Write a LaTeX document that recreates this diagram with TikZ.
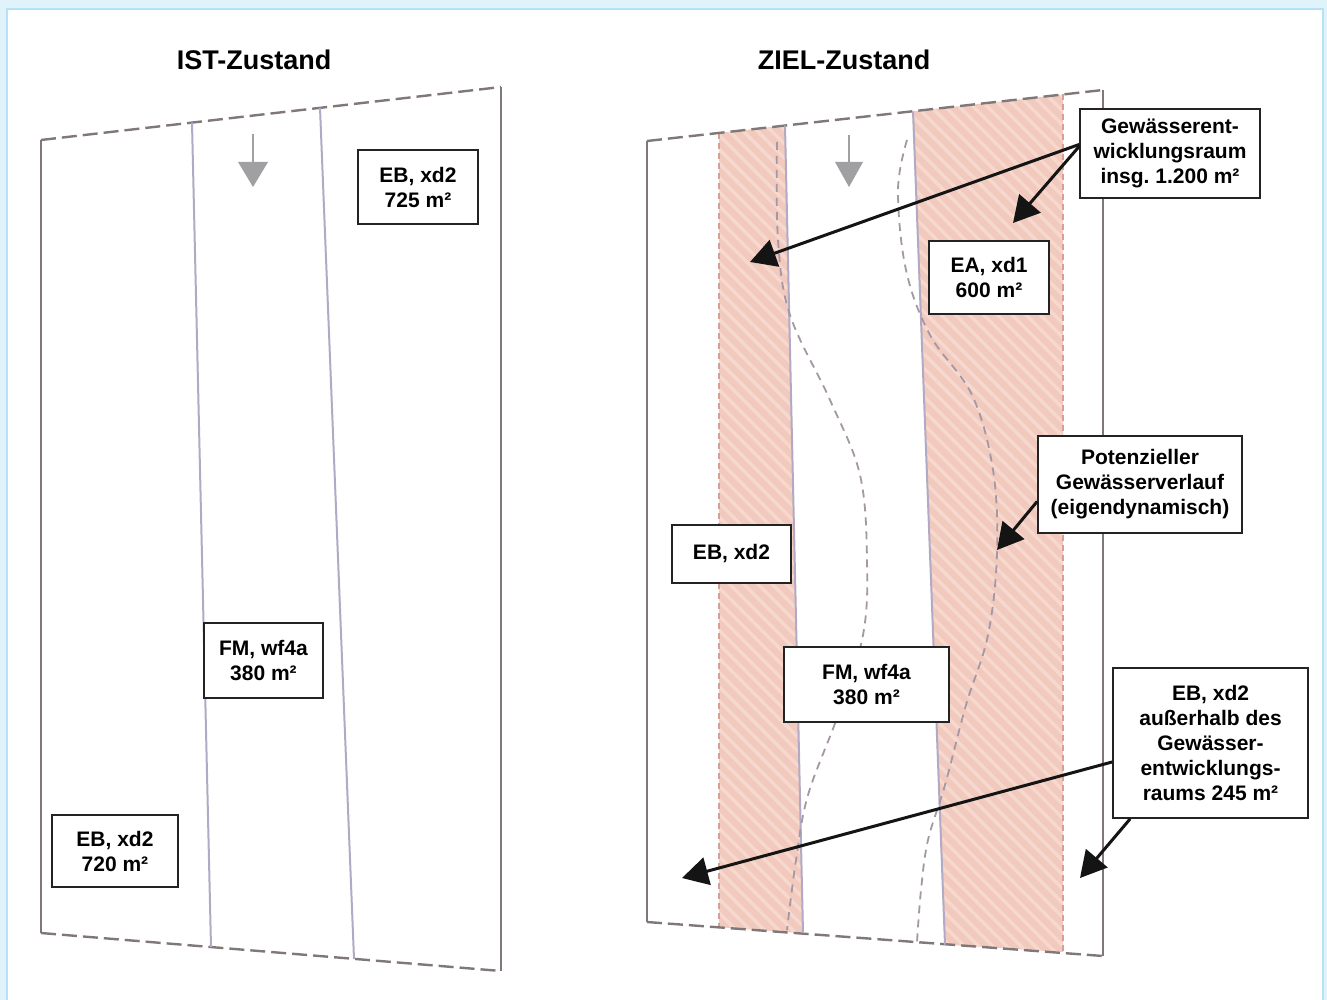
\documentclass[tikz,border=0pt]{standalone}
\usepackage{fontspec}
\setmainfont{Liberation Sans}
\usetikzlibrary{arrows.meta,patterns.meta,calc}
\definecolor{bgblue}{RGB}{224,243,251}
\definecolor{frameblue}{RGB}{180,226,246}
\definecolor{outline}{RGB}{128,120,120}
\definecolor{innerline}{RGB}{178,170,196}
\definecolor{bandpink}{RGB}{241,201,189}
\definecolor{bandlight}{RGB}{246,216,207}
\definecolor{bandedge}{RGB}{214,160,150}
\definecolor{meandercol}{RGB}{165,152,165}
\definecolor{flowgray}{RGB}{160,160,162}
\definecolor{boxline}{RGB}{35,35,35}
\begin{document}
\frenchspacing
\begin{tikzpicture}[x=1pt,y=-1pt,
  outerline/.style={draw=outline, line width=2.4pt},
  outerdash/.style={draw=outline, line width=2.4pt, dash pattern=on 15pt off 6pt},
  innerv/.style={draw=innerline, line width=2pt},
  bandfill/.style={fill=bandpink},
  bandhatch/.style={pattern={Lines[angle=-45,distance=10pt,line width=3.5pt]}, pattern color=bandlight},
  bandborder/.style={draw=bandedge, line width=1.6pt, dash pattern=on 6pt off 4pt},
  meander/.style={draw=meandercol, line width=1.8pt, dash pattern=on 8pt off 6pt},
  flow/.style={fill=flowgray},
  lbl/.style={draw=boxline, line width=1.8pt, fill=white, align=center, inner sep=0pt,
    font=\fontsize{21}{25}\selectfont\bfseries},
  ttl/.style={font=\fontsize{27}{30}\selectfont\bfseries, anchor=base, inner sep=0pt},
  pointer/.style={-{Triangle[length=26pt,width=28pt]}, line width=3pt, black!92}
]
\useasboundingbox (0,0) rectangle (1327,1000);
% background and frame
\fill[bgblue] (0,0) rectangle (1327,1000);
\filldraw[fill=white, draw=frameblue, line width=2.5pt] (7,9) rectangle (1323,1012);

% titles
\node[ttl] (t1) at (254,70) {IST-Zustand};
\node[ttl] (t2) at (844,70) {ZIEL-Zustand};

% ===== left panel (IST) =====
\draw[outerdash] (41,140) -- (501,87);
\draw[outerdash] (41,933) -- (501,971);
\draw[outerline] (41,140) -- (41,933);
\draw[outerline] (501,87) -- (501,971);
\draw[innerv] (192,122.6) -- (211,947);
\draw[innerv] (320,107.8) -- (354,958.8);
% flow arrow
\draw[flowgray, line width=2.5pt] (253,134) -- (253,165);
\fill[flow] (238,162) -- (268,162) -- (253,187) -- cycle;

% ===== right panel (ZIEL) =====
% bands
\fill[bandfill] (719,133) -- (785,125.6) -- (803,933.2) -- (719,927.2) -- cycle;
\fill[bandhatch] (719,133) -- (785,125.6) -- (803,933.2) -- (719,927.2) -- cycle;
\fill[bandfill] (913,111.3) -- (1063,94.5) -- (1063,952) -- (945,944.6) -- cycle;
\fill[bandhatch] (913,111.3) -- (1063,94.5) -- (1063,952) -- (945,944.6) -- cycle;
\draw[bandborder] (719,133) -- (719,927.2);
\draw[bandborder] (1063,94.5) -- (1063,952);
% outline
\draw[outerdash] (647,141) -- (1103,90);
\draw[outerdash] (647,922) -- (1103,956);
\draw[outerline] (647,141) -- (647,922);
\draw[outerline] (1103,90) -- (1103,956);
\draw[innerv] (785,125.6) -- (803,933.2);
\draw[innerv] (913,111.3) -- (945,944.6);
% potential channel (dashed banks)
\draw[meander] plot[smooth, tension=0.6] coordinates {(777,142) (778,240) (790,315) (830,400) (860,475) (867,560) (863,635) (838,715) (808,795) (796,860) (787,930)};
\draw[meander] plot[smooth, tension=0.6] coordinates {(907,140) (898,190) (906,270) (930,335) (972,395) (993,470) (997,553) (988,635) (966,705) (945,785) (928,840) (921,890) (917,942)};
% flow arrow
\draw[flowgray, line width=2.5pt] (849,135) -- (849,165);
\fill[flow] (835,162) -- (863,162) -- (849,187) -- cycle;

% ===== labels =====
\node[lbl, minimum width=120pt, minimum height=74pt] (ist725) at (418,187) {EB, xd2\\725 m²};
\node[lbl, minimum width=119pt, minimum height=75pt] (ist380) at (263.5,660.5) {FM, wf4a\\380 m²};
\node[lbl, minimum width=126pt, minimum height=72pt] (ist720) at (115,851) {EB, xd2\\720 m²};

\node[lbl, minimum width=180pt, minimum height=89pt] (ger) at (1170,153.5) {Gewässerent-\\wicklungsraum\\insg. 1.200 m²};
\node[lbl, minimum width=120pt, minimum height=73pt] (ea) at (989,277.5) {EA, xd1\\600 m²};
\node[lbl, minimum width=204pt, minimum height=97pt] (pot) at (1140,484.5) {Potenzieller\\Gewässerverlauf\\(eigendynamisch)};
\node[lbl, minimum width=119pt, minimum height=58pt] (eb2) at (731.5,554) {EB, xd2};
\node[lbl, minimum width=165pt, minimum height=75pt] (fm2) at (866.5,684.5) {FM, wf4a\\380 m²};
\node[lbl, minimum width=195pt, minimum height=150pt] (eba) at (1210.5,743) {EB, xd2\\außerhalb des\\Gewässer-\\entwicklungs-\\raums 245 m²};

% ===== pointers =====
\coordinate (tipA) at (750,262);
\coordinate (tipB) at (1013,223);
\coordinate (tipC) at (997,550);
\coordinate (tipD) at (682,878);
\coordinate (tipE) at (1080,878);
\draw[pointer] ($(ger.west)+(0,-9)$) -- (tipA);
\draw[pointer] ($(ger.west)+(0,-7)$) -- (tipB);
\draw[pointer] ($(pot.west)+(0,17)$) -- (tipC);
\draw[pointer] ($(eba.west)+(0,19)$) -- (tipD);
\draw[pointer] ($(eba.south west)+(18,0)$) -- (tipE);
\end{tikzpicture}
\end{document}
